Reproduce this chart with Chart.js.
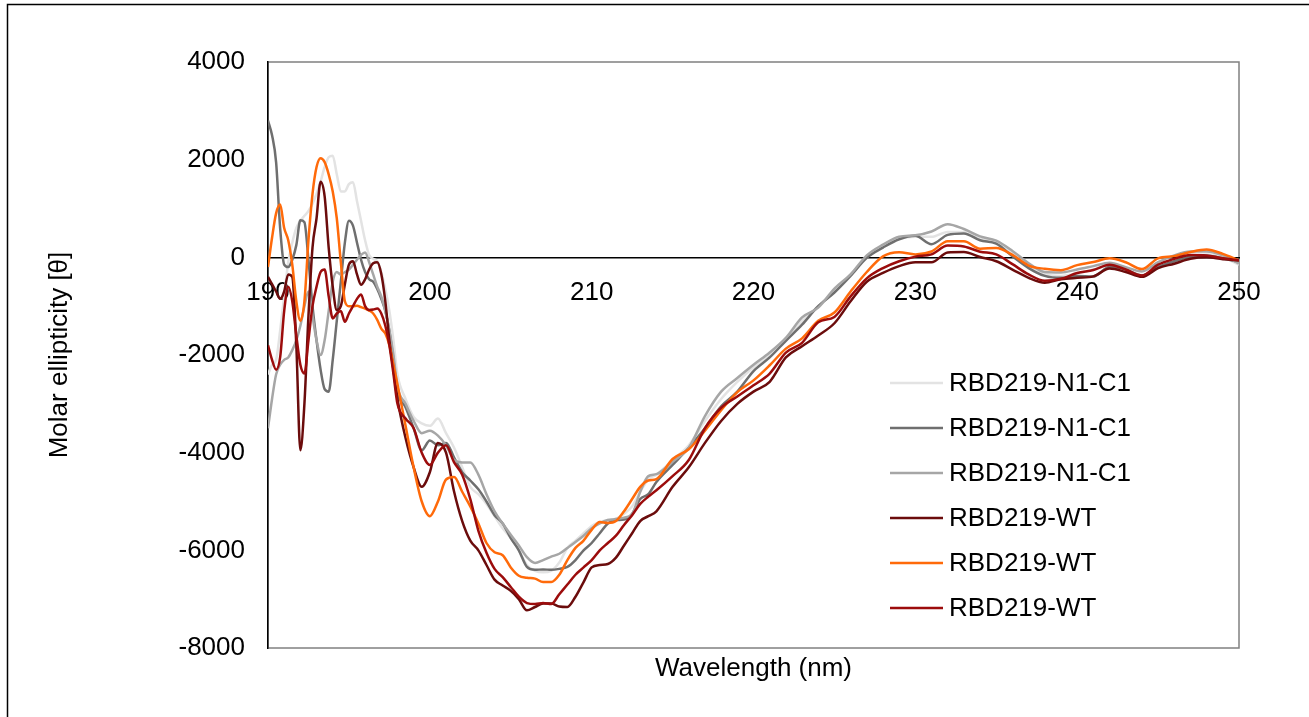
<!DOCTYPE html>
<html>
<head>
<meta charset="utf-8">
<script src="https://cdn.jsdelivr.net/npm/chart.js@4.4.0/dist/chart.umd.min.js"></script>
<style>
  body { margin: 0; background: #fff; }
</style>
</head>
<body>
<canvas id="cd-chart" width="1309" height="717"></canvas>
<script>
// wavelength grid (nm): finer where the spectra wiggle
const wavelength = [
  190, 190.25, 190.5, 190.75, 191, 191.25, 191.5, 191.75, 192, 192.25, 192.5, 192.75,
  193, 193.25, 193.5, 193.75, 194, 194.25, 194.5, 194.75, 195, 195.25, 195.5, 195.75,
  196, 196.25, 196.5, 196.75, 197, 197.25, 197.5, 197.75, 198,
  198.5, 199, 199.5, 200, 200.5, 201, 201.5, 202, 202.5, 203, 203.5, 204, 204.5, 205,
  205.5, 206, 206.5, 207, 207.5, 208, 208.5, 209, 209.5, 210, 210.5, 211, 211.5, 212,
  212.5, 213, 213.5, 214,
  215, 216, 217, 218, 219, 220, 221, 222, 223, 224, 225, 226, 227, 228, 229, 230, 231,
  232, 233, 234, 235, 236, 237, 238, 239, 240, 241, 242, 243, 244, 245, 246, 247, 248,
  249, 250
];

const n1c1Light = [
  -2400, -2200, -2100, -1500, -800, -100, 300, 600, 750, 850, 950, 1100,
  1300, 1550, 1850, 2050, 2080, 1700, 1350, 1350, 1500, 1540, 1150, 750,
  350, 50, -30, -80, -300, -650, -1100, -1700, -2400,
  -2900, -3270, -3400, -3450, -3300, -3600, -3900, -4300, -4700, -4850, -5050, -5300, -5550, -5750,
  -6000, -6300, -6420, -6450, -6420, -6250, -5950, -5800, -5650, -5500, -5420, -5380, -5350, -5250,
  -5100, -4800, -4550, -4450,
  -4150, -3850, -3350, -2900, -2550, -2250, -2000, -1700, -1300, -1000, -700, -350, 0, 230, 380, 420, 420,
  520, 520, 380, 300, 80, -180, -340, -380, -330, -250, -160, -260, -360, -220, -100, 20, 60,
  0, -150
];

const n1c1Dark = [
  2800, 2500, 1950, 600, -150, -200, -50, 250, 760, 720, -50, -1000,
  -1700, -2300, -2700, -2750, -2100, -1300, -500, 300, 750, 650, 300, -50,
  -300, -450, -500, -650, -850, -1100, -1500, -2100, -2750,
  -3070, -3500, -3950, -3750, -3850, -3800, -4100, -4400, -4570, -4750, -5000, -5280, -5450, -5750,
  -6000, -6340, -6400, -6390, -6400, -6380, -6340, -6200, -6000, -5850, -5650, -5450, -5380, -5370,
  -5250, -4950, -4850, -4600,
  -4250, -3900, -3500, -3050, -2750, -2330, -2050, -1710, -1380, -1000, -720, -380, -10, 200, 370, 440, 270,
  460, 490, 350, 280, 20, -220, -380, -420, -380, -390, -200, -250, -370, -200, -80, 10, 30,
  -20, -100
];

const n1c1Mid = [
  -3500, -2900, -2400, -2200, -2100, -2050, -1900, -1700, -1400, -1000, -700, -1200,
  -1700, -2000, -1700, -1100, -500, -300, -350, -300, -250, -150, -50, 50,
  100, -100, -350, -600, -800, -1100, -1500, -2000, -2650,
  -3000, -3350, -3600, -3550, -3650, -3850, -4150, -4200, -4200, -4450, -4850, -5200, -5450, -5680,
  -5900, -6140, -6260, -6200, -6130, -6070, -5950, -5830, -5700, -5550, -5450, -5380, -5360, -5330,
  -5260, -4800, -4480, -4440,
  -4180, -3900, -3250, -2750, -2470, -2200, -1950, -1650, -1230, -1030, -640, -350, 40, 260, 420, 450, 530,
  680, 580, 430, 340, 130, -120, -300, -310, -250, -180, -110, -200, -290, -100, 40, 120, 120,
  40, -130
];

const wtDark = [
  -400, -550, -700, -850, -700, -350, -400, -1800, -3950, -3000, -1200, 200,
  800, 1550, 1250, 200, -600, -1080, -1000, -550, -150, -80, -350, -560,
  -450, -250, -120, -100, -340, -900, -1700, -2300, -2900,
  -3700, -4300, -4700, -4400, -3800, -4000, -4800, -5400, -5800, -6000, -6300, -6600, -6720, -6830,
  -7000, -7229, -7160, -7090, -7090, -7150, -7160, -6950, -6650, -6350, -6300, -6280, -6150, -5900,
  -5650, -5400, -5300, -5200,
  -4700, -4300, -3800, -3350, -3000, -2750, -2550, -2050, -1820, -1600, -1350, -900, -500, -320, -180, -100, -100,
  100, 110, 6, -80, -250, -420, -520, -450, -420, -390, -230, -300, -400, -220, -130, -30, 0,
  -40, -60
];

const wtOrange = [
  -200, 400, 900, 1080, 600, 350, -150, -900, -1300, -900, 350, 1300,
  1850, 2030, 1950, 1700, 1350, 800, -100, -900, -1000, -1000, -990, -1020,
  -1050, -1090, -1150, -1280, -1460, -1560, -1800, -2200, -2600,
  -3450, -4300, -5000, -5300, -5000, -4550, -4500, -4800, -5100, -5450, -5850, -6040, -6100, -6350,
  -6520, -6560, -6580, -6650, -6650, -6500, -6200, -5950, -5800, -5580, -5420, -5440, -5400, -5200,
  -4950, -4700, -4570, -4540,
  -4130, -3930, -3550, -3130, -2760, -2520, -2210, -1870, -1660, -1300, -1130, -700, -300, 20, 105, 60, 120,
  330, 330, 178, 190, 50, -170, -235, -262, -160, -96, -20, -100, -240, -20, 25, 110, 160,
  70, -60
];

const wtRed = [
  -1800, -2100, -2300, -2050, -1100, -600, -900, -1600, -2200, -2380, -1700, -1000,
  -600, -300, -250, -800, -1250, -1150, -1100, -1320, -1150, -1000, -850, -760,
  -1000, -1080, -1070, -1050, -1150, -1400, -1800, -2384, -3000,
  -3300, -3500, -4000, -4250, -4000, -3850, -4200, -4450, -4950, -5600, -6050, -6380, -6550, -6750,
  -6950, -7080, -7100, -7080, -7100, -6900, -6700, -6500, -6350, -6200, -6000, -5850, -5700, -5480,
  -5280, -5050, -4900, -4770,
  -4480, -4150, -3500, -3080, -2850, -2620, -2380, -1950, -1750, -1330, -1220, -800, -430, -220, -80, 15, 60,
  240, 220, 116, 60, -140, -350, -480, -440, -320, -260, -150, -250, -370, -150, -30, 50, 40,
  -20, -60
];

const seriesLabels = ['RBD219-N1-C1', 'RBD219-N1-C1', 'RBD219-N1-C1', 'RBD219-WT', 'RBD219-WT', 'RBD219-WT'];
const seriesValues = [n1c1Light, n1c1Dark, n1c1Mid, wtDark, wtOrange, wtRed];
const seriesColors = ['#e3e3e3', '#6f6f6f', '#a6a6a6', '#6b0c0c', '#ff6a0a', '#9c0c0c'];

const yTicks = [-8000, -6000, -4000, -2000, 0, 2000, 4000];
const xTicks = [190, 200, 210, 220, 230, 240, 250];

Chart.defaults.font.family = '"Liberation Sans", Arial, sans-serif';
Chart.defaults.font.size = 26;
Chart.defaults.color = '#000';

// outer frame + grey plot box
const frame = {
  id: 'frame',
  beforeDraw(chart) {
    const {ctx, chartArea: a} = chart;
    ctx.save();
    ctx.strokeStyle = '#000';
    ctx.lineWidth = 1.5;
    ctx.strokeRect(7.5, 4.5, 1400, 800);
    ctx.strokeStyle = '#808080';
    ctx.lineWidth = 1.5;
    ctx.strokeRect(a.left, a.top, a.right - a.left, a.bottom - a.top);
    ctx.restore();
  }
};

// legend drawn inside the plot, like the Excel one
const sideLegend = {
  id: 'sideLegend',
  afterDraw(chart) {
    const ctx = chart.ctx;
    ctx.save();
    ctx.font = '26px "Liberation Sans", Arial, sans-serif';
    ctx.textBaseline = 'middle';
    chart.data.datasets.forEach((ds, i) => {
      const y = 383 + i * 45;
      ctx.strokeStyle = ds.borderColor;
      ctx.lineWidth = 2.5;
      ctx.beginPath();
      ctx.moveTo(890, y);
      ctx.lineTo(943, y);
      ctx.stroke();
      ctx.fillStyle = '#000';
      ctx.fillText(ds.label, 949, y + 1);
    });
    ctx.restore();
  }
};

const datasets = seriesValues.map((vals, i) => ({
  label: seriesLabels[i],
  data: wavelength.map((w, j) => ({x: w, y: vals[j]})),
  borderColor: seriesColors[i],
  borderWidth: 2.5,
  pointRadius: 0,
  cubicInterpolationMode: 'monotone',
  fill: false,
  order: seriesValues.length - i
}));

const ctx = document.getElementById('cd-chart').getContext('2d');
const chart = new Chart(ctx, {
  type: 'line',
  data: { datasets: datasets },
  plugins: [frame, sideLegend],
  options: {
    responsive: false,
    animation: false,
    layout: { padding: { left: 0, top: 62, right: 70, bottom: 0 } },
    plugins: { legend: { display: false }, tooltip: { enabled: false } },
    scales: {
      x: {
        type: 'linear',
        position: { y: 0 },
        min: 190,
        max: 250,
        grid: { display: false, drawTicks: false },
        border: { display: true, color: '#000', width: 1.5 },
        afterBuildTicks: (s) => { s.ticks = xTicks.map(v => ({value: v})); },
        ticks: { padding: 20, maxRotation: 0, callback: (v) => String(v) }
      },
      xTitle: {
        type: 'linear',
        axis: 'x',
        position: 'bottom',
        min: 190,
        max: 250,
        grid: { display: false, drawTicks: false },
        border: { display: false },
        ticks: { display: false },
        afterFit: (s) => { s.height = 69; },
        title: { display: true, text: 'Wavelength (nm)', padding: { top: 0, bottom: 33 } }
      },
      y: {
        type: 'linear',
        position: 'left',
        min: -8000,
        max: 4000,
        grid: { display: false, drawTicks: false },
        border: { display: true, color: '#000', width: 1.5 },
        afterBuildTicks: (s) => { s.ticks = yTicks.map(v => ({value: v})); },
        afterFit: (s) => { s.width = 268; },
        ticks: { padding: 23, callback: (v) => String(v) },
        title: { display: true, text: 'Molar ellipticity [θ]', padding: { top: 44, bottom: 0 } }
      }
    }
  }
});
</script>
</body>
</html>
